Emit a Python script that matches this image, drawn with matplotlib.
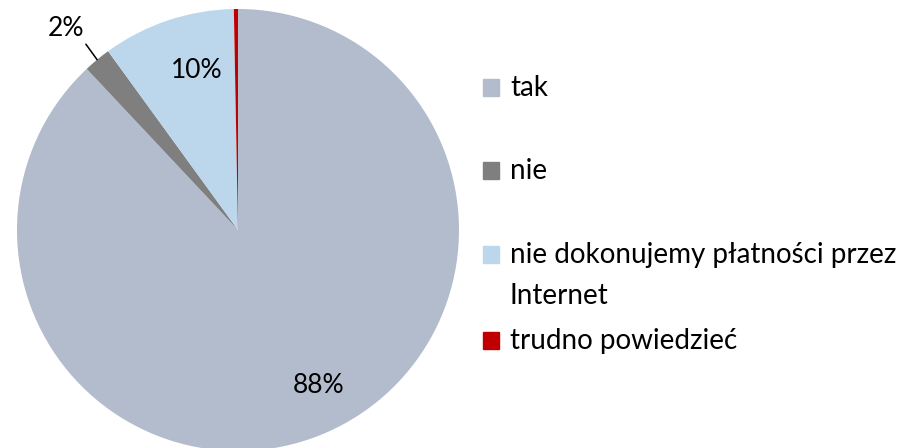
import math

import matplotlib

matplotlib.use("Agg")
import matplotlib.pyplot as plt
from matplotlib.patches import Rectangle

# dane
labels = ["tak", "nie", "nie dokonujemy płatności przez\nInternet", "trudno powiedzieć"]
values = [88.0, 2.0, 9.7, 0.3]
pct_text = ["88%", "2%", "10%", ""]
colors = ["#B3BCCD", "#7F7F7F", "#BCD6EC", "#C00000"]

FONT = ["Lato", "DejaVu Sans"]
plt.rcParams["font.family"] = FONT

W, H = 924, 448
fig = plt.figure(figsize=(W / 100, H / 100), dpi=100)

# pie: centre (238, 230) px, radius 221 px
cx, cy, r = 238, 230, 221
ax = fig.add_axes([(cx - r) / W, (H - cy - r) / H, 2 * r / W, 2 * r / H])
wedges, _ = ax.pie(values, colors=colors, startangle=90, counterclock=False,
                   radius=1.0, wedgeprops=dict(linewidth=0))
ax.set_xlim(-1, 1)
ax.set_ylim(-1, 1)
ax.set_aspect("equal")
ax.axis("off")

# etykiety procentowe (pozycje w jednostkach promienia)
lab_pos = {0: (0.365, -0.705), 2: (-0.185, 0.72)}
for i, (x, y) in lab_pos.items():
    ax.text(x, y, pct_text[i], ha="center", va="center", fontsize=19, color="black")

# 2% z linią odniesienia
w = wedges[1]
mid = math.radians((w.theta1 + w.theta2) / 2)
ax.annotate(pct_text[1], xy=(math.cos(mid), math.sin(mid)), xytext=(-0.78, 0.91),
            ha="center", va="center", fontsize=19,
            arrowprops=dict(arrowstyle="-", color="black", lw=1.1,
                            shrinkA=0, shrinkB=0, relpos=(1.0, 0.0)),
            annotation_clip=False)

# legenda rysowana ręcznie (odstępy jak w Excelu)
leg_y = [88, 171, 255, 341]  # środki pierwszej linii, px od góry
line_h = 41
for lab, col, y in zip(labels, colors, leg_y):
    fig.patches.append(Rectangle((483 / W, (H - y - 8) / H), 16 / W, 17 / H,
                                 transform=fig.transFigure, color=col))
    for k, part in enumerate(lab.split("\n")):
        fig.text(510 / W, (H - y - k * line_h) / H, part, ha="left", va="center",
                 fontsize=20)

fig.savefig("out.png", dpi=100)
